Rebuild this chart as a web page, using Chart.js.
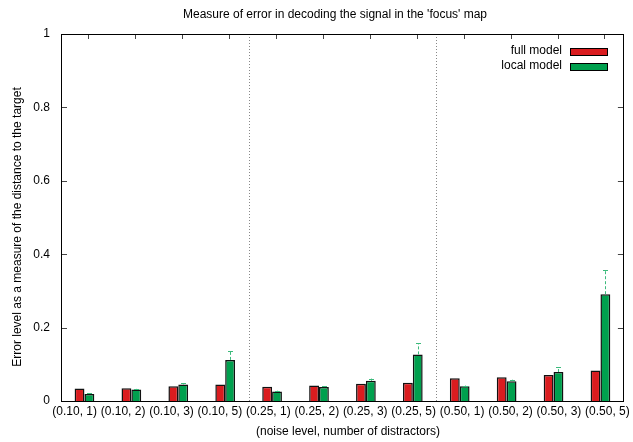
<!DOCTYPE html>
<html><head><meta charset="utf-8">
<script src="https://cdn.jsdelivr.net/npm/chart.js@4.4.1/dist/chart.umd.min.js"></script>
<style>html,body{margin:0;padding:0;background:#fff}#wrap{width:633px;height:442px}</style>
</head><body><div id="wrap"><canvas id="c" width="633" height="442"></canvas></div>
<script>
const categories = ["(0.10, 1)","(0.10, 2)","(0.10, 3)","(0.10, 5)","(0.25, 1)","(0.25, 2)","(0.25, 3)","(0.25, 5)","(0.50, 1)","(0.50, 2)","(0.50, 3)","(0.50, 5)"];
const seriesNames = ["full model","local model"];
const fullModel  = [0.034,0.035,0.040,0.045,0.039,0.042,0.047,0.050,0.062,0.065,0.071,0.083];
const localModel = [0.019,0.031,0.045,0.112,0.026,0.038,0.055,0.127,0.040,0.054,0.079,0.291];
const localUpper = [0.021,0.033,0.048,0.137,0.028,0.040,0.061,0.157,0.042,0.058,0.092,0.358];
const yTicks = [0,0.2,0.4,0.6,0.8,1];
const groupBreaks = [4,8];
const titleText = "Measure of error in decoding the signal in the 'focus' map";
const xTitle = "(noise level, number of distractors)";
const yTitle = "Error level as a measure of the distance to the target";

const RED = '#da1c1f', GREEN = '#00a04e', ERR = '#3dba7c';
const FONT = '"Liberation Sans", Arial, Helvetica, sans-serif';

const decor = {
  id: 'decor',
  afterDatasetsDraw(chart) {
    const ctx = chart.ctx, a = chart.chartArea;
    const xs = chart.scales.x, ys = chart.scales.y;
    ctx.save();
    // error bars for local model
    const meta = chart.getDatasetMeta(1);
    ctx.strokeStyle = ERR; ctx.lineWidth = 1;
    meta.data.forEach((bar, i) => {
      const x = Math.round(bar.x) + 0.5;
      const y0 = ys.getPixelForValue(localModel[i]);
      const y1 = ys.getPixelForValue(localUpper[i]);
      ctx.setLineDash([3, 2]);
      ctx.beginPath(); ctx.moveTo(x, y0); ctx.lineTo(x, y1); ctx.stroke();
      ctx.setLineDash([]);
      ctx.beginPath(); ctx.moveTo(x - 2.5, Math.round(y1) + 0.5); ctx.lineTo(x + 2.5, Math.round(y1) + 0.5); ctx.stroke();
    });
    // group separators
    ctx.strokeStyle = '#888'; ctx.setLineDash([1, 2]);
    groupBreaks.forEach(b => {
      const x = Math.round((xs.getPixelForValue(b - 1) + xs.getPixelForValue(b)) / 2) + 0.5;
      ctx.beginPath(); ctx.moveTo(x, a.top); ctx.lineTo(x, a.bottom); ctx.stroke();
    });
    ctx.setLineDash([]);
    // inward tick marks
    ctx.strokeStyle = '#444'; ctx.lineWidth = 1;
    yTicks.forEach(v => {
      const y = Math.round(ys.getPixelForValue(v)) + 0.5;
      ctx.beginPath(); ctx.moveTo(a.left, y); ctx.lineTo(a.left + 6, y);
      ctx.moveTo(a.right, y); ctx.lineTo(a.right - 6, y); ctx.stroke();
    });
    categories.forEach((c, i) => {
      const x = Math.round(xs.getPixelForValue(i)) + 4.5;
      ctx.beginPath(); ctx.moveTo(x, a.top); ctx.lineTo(x, a.top + 5); ctx.stroke();
    });
    // frame
    ctx.strokeStyle = '#000';
    ctx.strokeRect(Math.round(a.left) + 0.5, Math.round(a.top) + 0.5, Math.round(a.right - a.left) - 1, Math.round(a.bottom - a.top));
    // legend
    ctx.font = '12px ' + FONT; ctx.textAlign = 'right'; ctx.textBaseline = 'middle'; ctx.fillStyle = '#000';
    const colors = [RED, GREEN];
    seriesNames.forEach((n, k) => {
      const yc = 51 + k * 15;
      ctx.fillStyle = '#000';
      ctx.fillText(n, 562, yc);
      ctx.fillStyle = colors[k];
      ctx.fillRect(570, yc - 3, 38, 7);
      ctx.strokeStyle = '#000';
      ctx.strokeRect(570.5, yc - 3 + 0.5, 37, 7);
    });
    // titles
    ctx.textAlign = 'center'; ctx.fillStyle = '#000';
    ctx.fillText(titleText, 335, 15);
    ctx.fillText(xTitle, 348, 432);
    ctx.translate(18, 227); ctx.rotate(-Math.PI / 2);
    ctx.fillText(yTitle, 0, 0);
    ctx.restore();
  }
};

new Chart(document.getElementById('c'), {
  type: 'bar',
  data: {
    labels: categories,
    datasets: [
      { label: seriesNames[0], data: fullModel, backgroundColor: RED, borderColor: '#111', borderWidth: 1.5 },
      { label: seriesNames[1], data: localModel, backgroundColor: GREEN, borderColor: '#111', borderWidth: 1.5 }
    ]
  },
  plugins: [decor],
  options: {
    responsive: false, animation: false, devicePixelRatio: 1,
    layout: { padding: { top: 34, right: 6, left: 0, bottom: 0 } },
    datasets: { bar: { categoryPercentage: 0.42, barPercentage: 1.0 } },
    plugins: { legend: { display: false }, title: { display: false }, tooltip: { enabled: false } },
    scales: {
      x: { type: 'category', display: false, offset: true },
      xl: {
        type: 'linear', position: 'bottom', min: -0.2813, max: 11.341, offset: false,
        grid: { display: false, drawTicks: false, offset: false }, border: { display: false },
        ticks: { stepSize: 1, includeBounds: false, maxTicksLimit: 20, autoSkip: false, maxRotation: 0,
                 padding: 3, color: '#000', font: { family: FONT, size: 12 },
                 callback: v => categories[v] !== undefined ? categories[v] : '' },
        afterFit: s => { s.height = 41; }
      },
      y: {
        min: 0, max: 1,
        grid: { display: false, drawTicks: false }, border: { display: false },
        ticks: { stepSize: 0.2, padding: 11, color: '#000', font: { family: FONT, size: 12 },
                 callback: v => String(Math.round(v * 10) / 10) },
        afterFit: s => { s.width = 61; }
      }
    }
  }
});
</script></body></html>
